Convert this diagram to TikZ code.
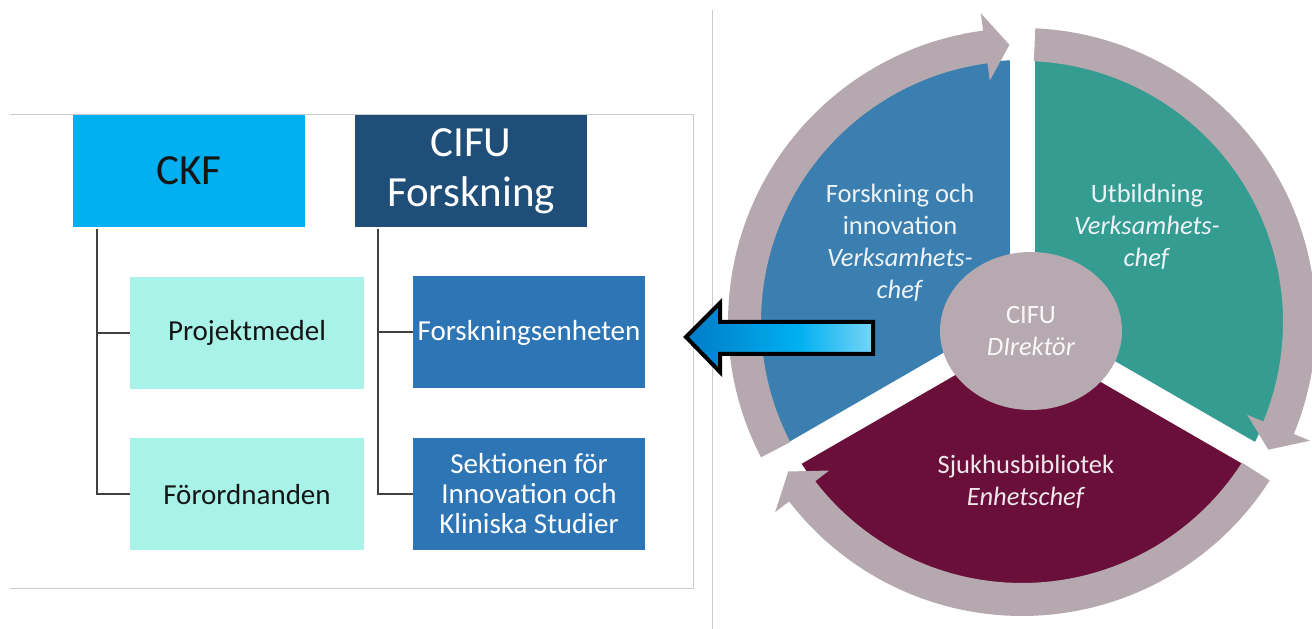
\documentclass[tikz,border=0pt]{standalone}
\usepackage{fontspec}
\setmainfont{Carlito}
\usetikzlibrary{shapes.geometric}
\definecolor{ckfc}{HTML}{00B0F0}
\definecolor{cifuc}{HTML}{1F4E79}
\definecolor{aquac}{HTML}{A8F2E8}
\definecolor{midbc}{HTML}{2E75B6}
\definecolor{linec}{HTML}{404040}
\definecolor{framec}{HTML}{CCCCCC}
\definecolor{secblue}{HTML}{3A7FAF}
\definecolor{secteal}{HTML}{349C91}
\definecolor{secmaroon}{HTML}{6A0E3A}
\definecolor{ringc}{HTML}{B5A9AF}
\definecolor{hubc}{HTML}{B7A9B0}
\definecolor{lighttxt}{HTML}{EEF3F8}
\definecolor{darktxt}{HTML}{151515}
\definecolor{arrdark}{HTML}{005CAE}
\definecolor{arrmid}{HTML}{00B0F0}
\pgfdeclarehorizontalshading{arrowshade}{100bp}{color(0bp)=(arrdark); color(22bp)=(arrdark!70!arrmid); color(55bp)=(arrmid); color(85bp)=(arrmid!30!white); color(100bp)=(white)}
\newcommand\ringarrow[3]{%
  \fill[ringc] (#1:294) arc[start angle=#1, end angle=#2, radius=294]
    -- (#2:311.5) -- (#3:277.5) -- (#2:243.5) -- (#2:261)
    arc[start angle=#2, end angle=#1, radius=261] -- cycle;}
\tikzset{
  topbox/.style={minimum width=232, minimum height=112, inner sep=0,
    font=\fontsize{43}{50}\selectfont, align=center},
  subbox/.style={minimum width=234, minimum height=112, inner sep=0,
    font=\fontsize{29}{30}\selectfont, align=center},
  conn/.style={draw=linec, line width=2},
  segtxt/.style={text=lighttxt, font=\fontsize{26.5}{32}\selectfont, align=center, inner sep=0},
  framel/.style={draw=framec, line width=1},
}
\begin{document}
\begin{tikzpicture}[x=1pt,y=1pt]
\useasboundingbox (0,0) rectangle (1312,629);
\fill[white] (0,0) rectangle (1312,629);
% frame and separator
\draw[framel] (10,514) -- (693,514) -- (693,40) -- (10,40);
\draw[framel] (712.5,619) -- (712.5,0);
% org chart
\node[topbox, fill=ckfc, text=darktxt] (ckf) at (189,458) {CKF};
\node[topbox, fill=cifuc, text=white] (cifu) at (471,458) {CIFU\\Forskning};
\node[subbox, fill=aquac, text=darktxt] (proj) at (247,296) {Projektmedel};
\node[subbox, fill=aquac, text=darktxt] (foro) at (247,134.5) {Förordnanden};
\node[subbox, minimum width=232, fill=midbc, text=white] (fenh) at (529,296.5) {Forskningsenheten};
\node[subbox, minimum width=232, fill=midbc, text=white] (sekt) at (529,135) {Sektionen för\\Innovation och\\Kliniska Studier};
\draw[conn] ([xshift=-92pt,yshift=-2pt]ckf.south) |- (proj.west);
\draw[conn] ([xshift=-92pt,yshift=-2pt]ckf.south) |- (foro.west);
\draw[conn] ([xshift=-93pt,yshift=-2pt]cifu.south) |- (fenh.west);
\draw[conn] ([xshift=-93pt,yshift=-2pt]cifu.south) |- (sekt.west);
% cycle
\begin{scope}[shift={(1022,307)}]
\fill[secblue] (0,0) -- (210:262) arc[start angle=210, end angle=90, radius=262] -- cycle;
\fill[secteal] (0,0) -- (90:262) arc[start angle=90, end angle=-30, radius=262] -- cycle;
\fill[secmaroon] (0,0) -- (-30:262) arc[start angle=-30, end angle=-150, radius=262] -- cycle;
\foreach \a in {90,-30,210} \draw[white, line width=25] (0,0) -- (\a:263);
\ringarrow{207.4}{97.6}{92.6}
\ringarrow{87.4}{-22.4}{-27.4}
\ringarrow{-32.6}{-142.4}{-147.4}
\end{scope}
\node[ellipse, fill=hubc, minimum width=182, minimum height=158, inner sep=0,
  segtxt, text=white!92!hubc] (hub) at (1031,298) {CIFU\\\textit{DIrektör}};
\node[segtxt] (forsk) at (900,386) {Forskning och\\innovation\\\textit{Verksamhets-}\\\textit{chef}};
\node[segtxt] (utb) at (1147,402) {Utbildning\\\textit{Verksamhets-}\\\textit{chef}};
\node[segtxt, text=white!90!secmaroon] (sjuk) at (1026,147) {Sjukhusbibliotek\\\textit{Enhetschef}};
% big arrow
\path[draw=black, line width=4, line join=miter, shading=arrowshade]
  (686,292) -- (720,326) -- (720,307) -- (873,307) -- (873,275) -- (720,275) -- (720,257) -- cycle;
\end{tikzpicture}
\end{document}
